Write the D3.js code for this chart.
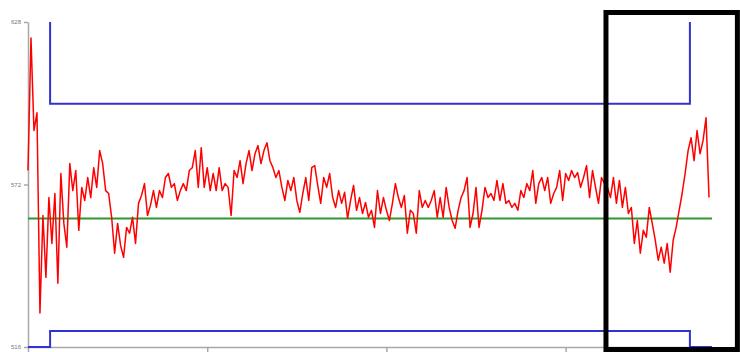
<!DOCTYPE html>
<html>
<head>
<meta charset="utf-8">
<script src="https://cdn.jsdelivr.net/npm/d3@7"></script>
<style>
	body { margin: 0; background: #fff; }
	.axis path, .axis line { stroke: #a8a8a8; stroke-width: 1.5; }
	.axis text { fill: #777; font-family: "Liberation Sans", sans-serif; font-size: 6px; }
</style>
</head>
<body>
<div class="box"></div>
<script>
// measured series, one reading per sample
var readings = [
	576.8, 622.5, 590.6, 596.7, 527.7, 561.3, 540.0, 567.5, 551.7, 568.9,
	538.0, 575.8, 558.6, 550.4, 579.2, 569.9, 576.8, 556.2, 571.0, 566.5,
	574.4, 567.5, 577.8, 571.0, 583.7, 579.2, 569.9, 568.9, 560.7, 548.3,
	558.6, 551.0, 546.9, 557.2, 555.2, 560.7, 551.7, 565.5, 568.2, 572.3,
	561.3, 564.8, 569.9, 564.1, 569.9, 567.5, 574.4, 575.8, 571.0, 572.3,
	566.5, 569.9, 572.3, 569.9, 576.8, 577.8, 583.7, 571.0, 584.7, 571.0,
	577.8, 569.9, 575.8, 569.9, 577.8, 569.9, 572.3, 571.0, 561.3, 576.8,
	574.4, 580.2, 572.3, 579.2, 583.7, 576.8, 582.6, 585.4, 579.2, 583.7,
	586.4, 580.2, 577.8, 574.4, 576.8, 571.0, 566.5, 573.4, 569.9, 574.4,
	566.5, 562.4, 568.9, 574.4, 566.5, 577.8, 578.5, 571.7, 565.5, 574.4,
	571.0, 575.8, 567.5, 564.1, 569.9, 565.5, 569.3, 560.3, 566.5, 571.7,
	563.1, 567.5, 562.0, 565.8, 560.7, 563.1, 557.2, 569.9, 562.0, 567.5,
	563.1, 559.6, 565.5, 572.3, 567.5, 564.1, 568.2, 555.2, 563.1, 562.0,
	555.2, 569.9, 564.1, 566.5, 564.1, 566.5, 569.9, 560.7, 567.5, 560.7,
	571.0, 564.1, 559.6, 556.9, 563.1, 567.5, 569.9, 574.4, 557.2, 562.0,
	571.0, 557.2, 563.1, 571.0, 567.5, 568.9, 566.5, 573.4, 566.5, 572.3,
	565.5, 566.5, 564.1, 565.5, 563.1, 569.9, 567.5, 572.3, 569.9, 576.8,
	565.5, 572.3, 574.4, 569.9, 574.4, 565.5, 568.9, 571.0, 576.8, 566.5,
	575.8, 573.4, 576.8, 574.4, 576.1, 571.0, 574.4, 578.5, 567.5, 576.8,
	571.0, 565.5, 574.4, 572.3, 571.0, 567.5, 574.4, 565.5, 573.4, 564.1,
	571.0, 562.0, 564.1, 551.7, 559.6, 548.3, 556.2, 553.8, 564.1, 558.6,
	552.8, 545.9, 550.4, 544.9, 551.7, 541.8, 552.8, 557.2, 563.1, 568.9,
	575.8, 583.7, 588.1, 580.2, 590.6, 582.6, 587.1, 595.0, 567.5
];

var yTicks = [516, 572, 628];
var xTicks = [0, 60, 120, 180];

// control limits change at these sample positions
var limitBreaks = [0, 7.4, 221.6, 229];
var upperLimit = [660, 599.8, 660];
var lowerLimit = [516, 521.5, 516];
var centerLine = 560.3;

// boxed region (sample positions)
var highlight = [193.5, 237.5];


function limitPoints(values)
{
	return limitBreaks.map(function(b, k) {
		return {i: b, v: values[Math.min(k, values.length - 1)]};
	});
}

function drawChart()
{
	var width = 740, height = 352;
	var left = 28, top = 22, right = 712, bottom = 347;

	var svg = d3.select('.box')
		.append('svg')
		.attr('width', width)
		.attr('height', height);

	var x = d3.scaleLinear().domain([0, 229]).range([left, right]);
	var y = d3.scaleLinear().domain([516, 628]).range([bottom, top]);

	svg.append('clipPath')
		.attr('id', 'plot')
		.append('rect')
			.attr('x', left - 2)
			.attr('y', top)
			.attr('width', right - left + 4)
			.attr('height', bottom - top + 3);

	// x labels sit below the visible area, so only the tick marks show
	svg.append('g')
		.attr('class', 'axis')
		.attr('transform', 'translate(0,' + bottom + ')')
		.call(d3.axisBottom(x).tickValues(xTicks).tickSize(5).tickSizeOuter(0).tickFormat(''));

	svg.append('g')
		.attr('class', 'axis')
		.attr('transform', 'translate(' + left + ',0)')
		.call(d3.axisLeft(y).tickValues(yTicks).tickSize(4).tickPadding(3).tickSizeOuter(0));

	var plot = svg.append('g').attr('clip-path', 'url(#plot)');

	plot.append('line')
		.attr('x1', x(0))
		.attr('x2', x(229))
		.attr('y1', y(centerLine))
		.attr('y2', y(centerLine))
		.style('stroke', '#2f9632')
		.style('stroke-width', 2);

	var step = d3.line()
		.x(function(d) { return x(d.i); })
		.y(function(d) { return y(d.v); })
		.curve(d3.curveStepAfter);

	[upperLimit, lowerLimit].forEach(function(values) {
		plot.append('path')
			.datum(limitPoints(values))
			.attr('d', step)
			.style('fill', 'none')
			.style('stroke', '#3232d2')
			.style('stroke-width', 2);
	});

	var line = d3.line()
		.x(function(d, i) { return x(i); })
		.y(function(d) { return y(d); });

	plot.append('path')
		.datum(readings)
		.attr('d', line)
		.style('fill', 'none')
		.style('stroke', '#ff0000')
		.style('stroke-width', 1.5)
		.style('stroke-linejoin', 'round');

	svg.append('rect')
		.attr('x', x(highlight[0]))
		.attr('y', top - 9.5)
		.attr('width', x(highlight[1]) - x(highlight[0]))
		.attr('height', bottom - top + 12)
		.style('fill', 'none')
		.style('stroke', '#000')
		.style('stroke-width', 5);
}

drawChart();
</script>
</body>
</html>
